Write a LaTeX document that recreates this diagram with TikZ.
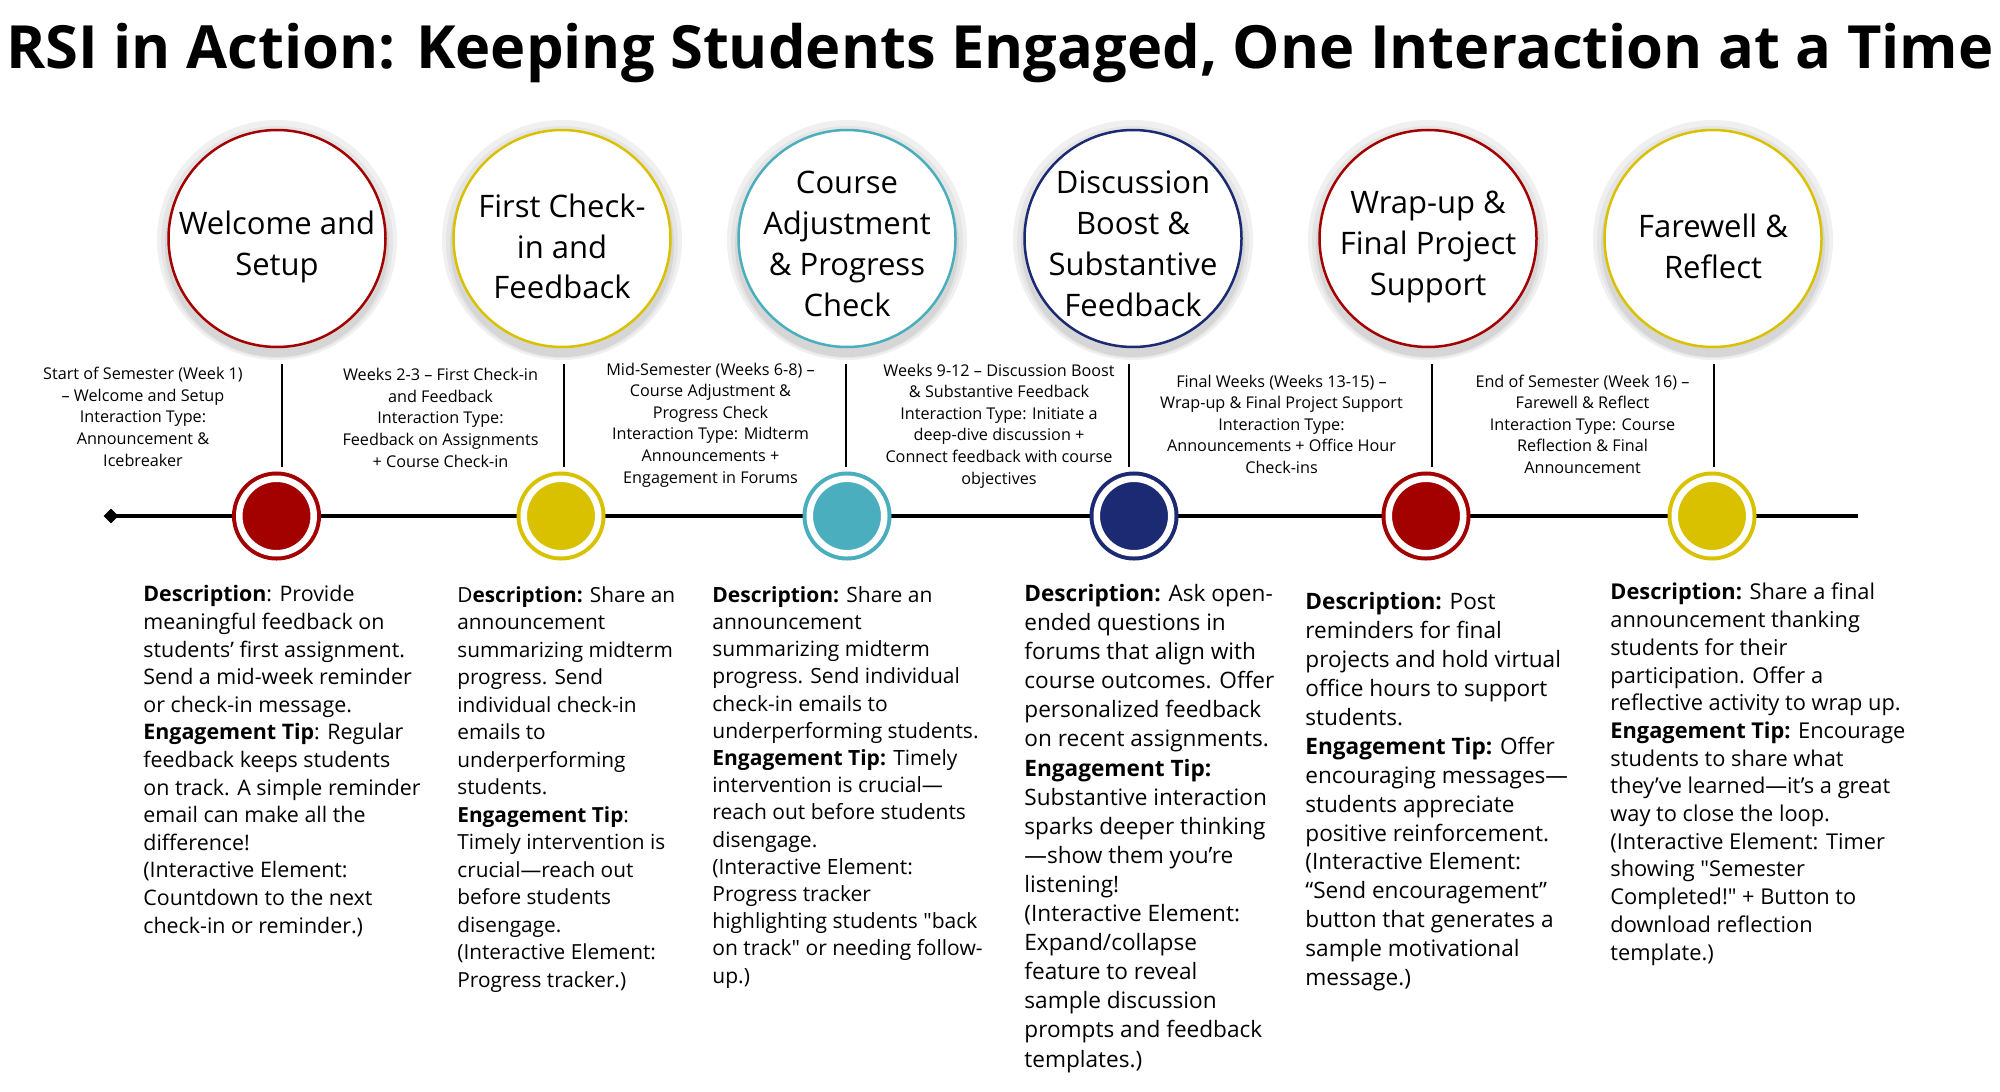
\documentclass[tikz,border=0pt]{standalone}
\usepackage{fontspec}
\setmainfont{Open Sans}[Ligatures=TeXOff]
\usetikzlibrary{shapes.geometric}

\definecolor{rsired}{RGB}{163,0,0}
\definecolor{rsiyellow}{RGB}{217,193,0}
\definecolor{rsiteal}{RGB}{74,174,190}
\definecolor{rsinavy}{RGB}{27,42,115}

\begin{document}
\begin{tikzpicture}[x=0.5pt,y=-0.5pt,
  stage/.style={circle,fill=white,line width=1.25pt,minimum size=108.5pt,inner sep=0pt},
  stagetext/.style={anchor=base,align=center,inner sep=0pt,font=\fontsize{15.5}{20.35}\selectfont},
  dot/.style={circle,line width=2pt,double=white,double distance=3.25pt,minimum size=37.25pt,inner sep=0pt},
  stem/.style={line width=1.35pt},
  week/.style={anchor=base,align=center,inner sep=0pt,font=\fontsize{8.1}{10.8}\selectfont},
  desc/.style 2 args={anchor=base west,align=left,inner sep=0pt,font=\fontsize{#1}{#2}\selectfont}]
  \useasboundingbox (0,0) rectangle (2000,1091);

  \node[anchor=base,inner sep=0pt,font=\bfseries\fontsize{29.8}{32}\selectfont] (title) at (1000,69)
    {RSI in Action: Keeping Students Engaged, One Interaction at a Time};

  % big circles with a soft shadow (text anchored on its last line)
  \foreach \cx/\lx/\col/\ty/\txt [count=\i] in {
    277/282/rsired/275.5/{Welcome and\\Setup},
    562/564/rsiyellow/298.7/{First Check-\\in and\\Feedback},
    847/846/rsiteal/316/{Course\\Adjustment\\\& Progress\\Check},
    1133/1129/rsinavy/316/{Discussion\\Boost \&\\Substantive\\Feedback},
    1428/1432/rsired/295.2/{Wrap-up \&\\Final Project\\Support},
    1713/1714/rsiyellow/278.3/{Farewell \&\\Reflect}}
  {
    \fill[black!6] (\cx,240) circle (120);
    \fill[black!10] (\cx,242) circle (116);
    \fill[black!16] (\cx,245) circle (112);
    \node[stage,draw=\col] (c\i) at (\cx,238.5) {};
    \node[stagetext] (n\i) at (\cx,\ty) {\txt};
    \coordinate (t\i) at (\lx,364);
    \coordinate (b\i) at (\lx,467);
    \draw[stem] (t\i) -- (b\i);
  }

  % timeline
  \node[diamond,fill=black,minimum size=7.5pt,inner sep=0pt] (tl0) at (111,516) {};
  \coordinate (tl1) at (1858,516);
  \draw[line width=1.75pt] (tl0.center) -- (tl1);
  \foreach \dx/\col [count=\i] in {276.5/rsired,561/rsiyellow,847/rsiteal,1134/rsinavy,1426/rsired,1712/rsiyellow}
    \node[dot,draw=\col,fill=\col] (d\i) at (\dx,516) {};

  \node[week] (w1) at (143,466) {Start of Semester (Week 1)\\– Welcome and Setup\\Interaction Type:\\Announcement \&\\Icebreaker};
  \node[week] (w2) at (440.5,467) {Weeks 2-3 – First Check-in\\and Feedback\\Interaction Type:\\Feedback on Assignments\\+ Course Check-in};
  \node[week] (w3) at (710.5,483) {Mid-Semester (Weeks 6-8) –\\Course Adjustment \&\\Progress Check\\Interaction Type: Midterm\\Announcements +\\Engagement in Forums};
  \node[week] (w4) at (999,484) {Weeks 9-12 – Discussion Boost\\\& Substantive Feedback\\Interaction Type: Initiate a\\deep-dive discussion +\\Connect feedback with course\\objectives};
  \node[week] (w5) at (1281.5,473.5) {Final Weeks (Weeks 13-15) –\\Wrap-up \& Final Project Support\\Interaction Type:\\Announcements + Office Hour\\Check-ins};
  \node[week] (w6) at (1582.5,473.5) {End of Semester (Week 16) –\\Farewell \& Reflect\\Interaction Type: Course\\Reflection \& Final\\Announcement};

  \node[desc={10.7}{13.8}] (ds1) at (143,933) {\textbf{Description}: Provide\\meaningful feedback on\\students’ first assignment.\\Send a mid-week reminder\\or check-in message.\\\textbf{Engagement Tip}: Regular\\feedback keeps students\\on track. A simple reminder\\email can make all the\\difference!\\(Interactive Element:\\Countdown to the next\\check-in or reminder.)};
  \node[desc={10.4}{13.75}] (ds2) at (457,987) {D\textbf{escription:} Share an\\announcement\\summarizing midterm\\progress. Send\\individual check-in\\emails to\\underperforming\\students.\\\textbf{Engagement Tip}:\\Timely intervention is\\crucial—reach out\\before students\\disengage.\\(Interactive Element:\\Progress tracker.)};
  \node[desc={10.5}{13.6}] (ds3) at (712,983) {\textbf{Description:} Share an\\announcement\\summarizing midterm\\progress. Send individual\\check-in emails to\\underperforming students.\\\textbf{Engagement Tip:} Timely\\intervention is crucial—\\reach out before students\\disengage.\\(Interactive Element:\\Progress tracker\\highlighting students "back\\on track" or needing follow-\\up.)};
  \node[desc={11.3}{14.55}] (ds4) at (1024,1067) {\textbf{Description:} Ask open-\\ended questions in\\forums that align with\\course outcomes. Offer\\personalized feedback\\on recent assignments.\\\textbf{Engagement Tip:}\\Substantive interaction\\sparks deeper thinking\\—show them you’re\\listening!\\(Interactive Element:\\Expand/collapse\\feature to reveal\\sample discussion\\prompts and feedback\\templates.)};
  \node[desc={11.3}{14.45}] (ds5) at (1305,985.5) {\textbf{Description:} Post\\reminders for final\\projects and hold virtual\\office hours to support\\students.\\\textbf{Engagement Tip:} Offer\\encouraging messages—\\students appreciate\\positive reinforcement.\\(Interactive Element:\\“Send encouragement”\\button that generates a\\sample motivational\\message.)};
  \node[desc={10.9}{13.85}] (ds6) at (1610,960) {\textbf{Description:} Share a final\\announcement thanking\\students for their\\participation. Offer a\\reflective activity to wrap up.\\\textbf{Engagement Tip:} Encourage\\students to share what\\they’ve learned—it’s a great\\way to close the loop.\\(Interactive Element: Timer\\showing "Semester\\Completed!" + Button to\\download reflection\\template.)};
\end{tikzpicture}
\end{document}
